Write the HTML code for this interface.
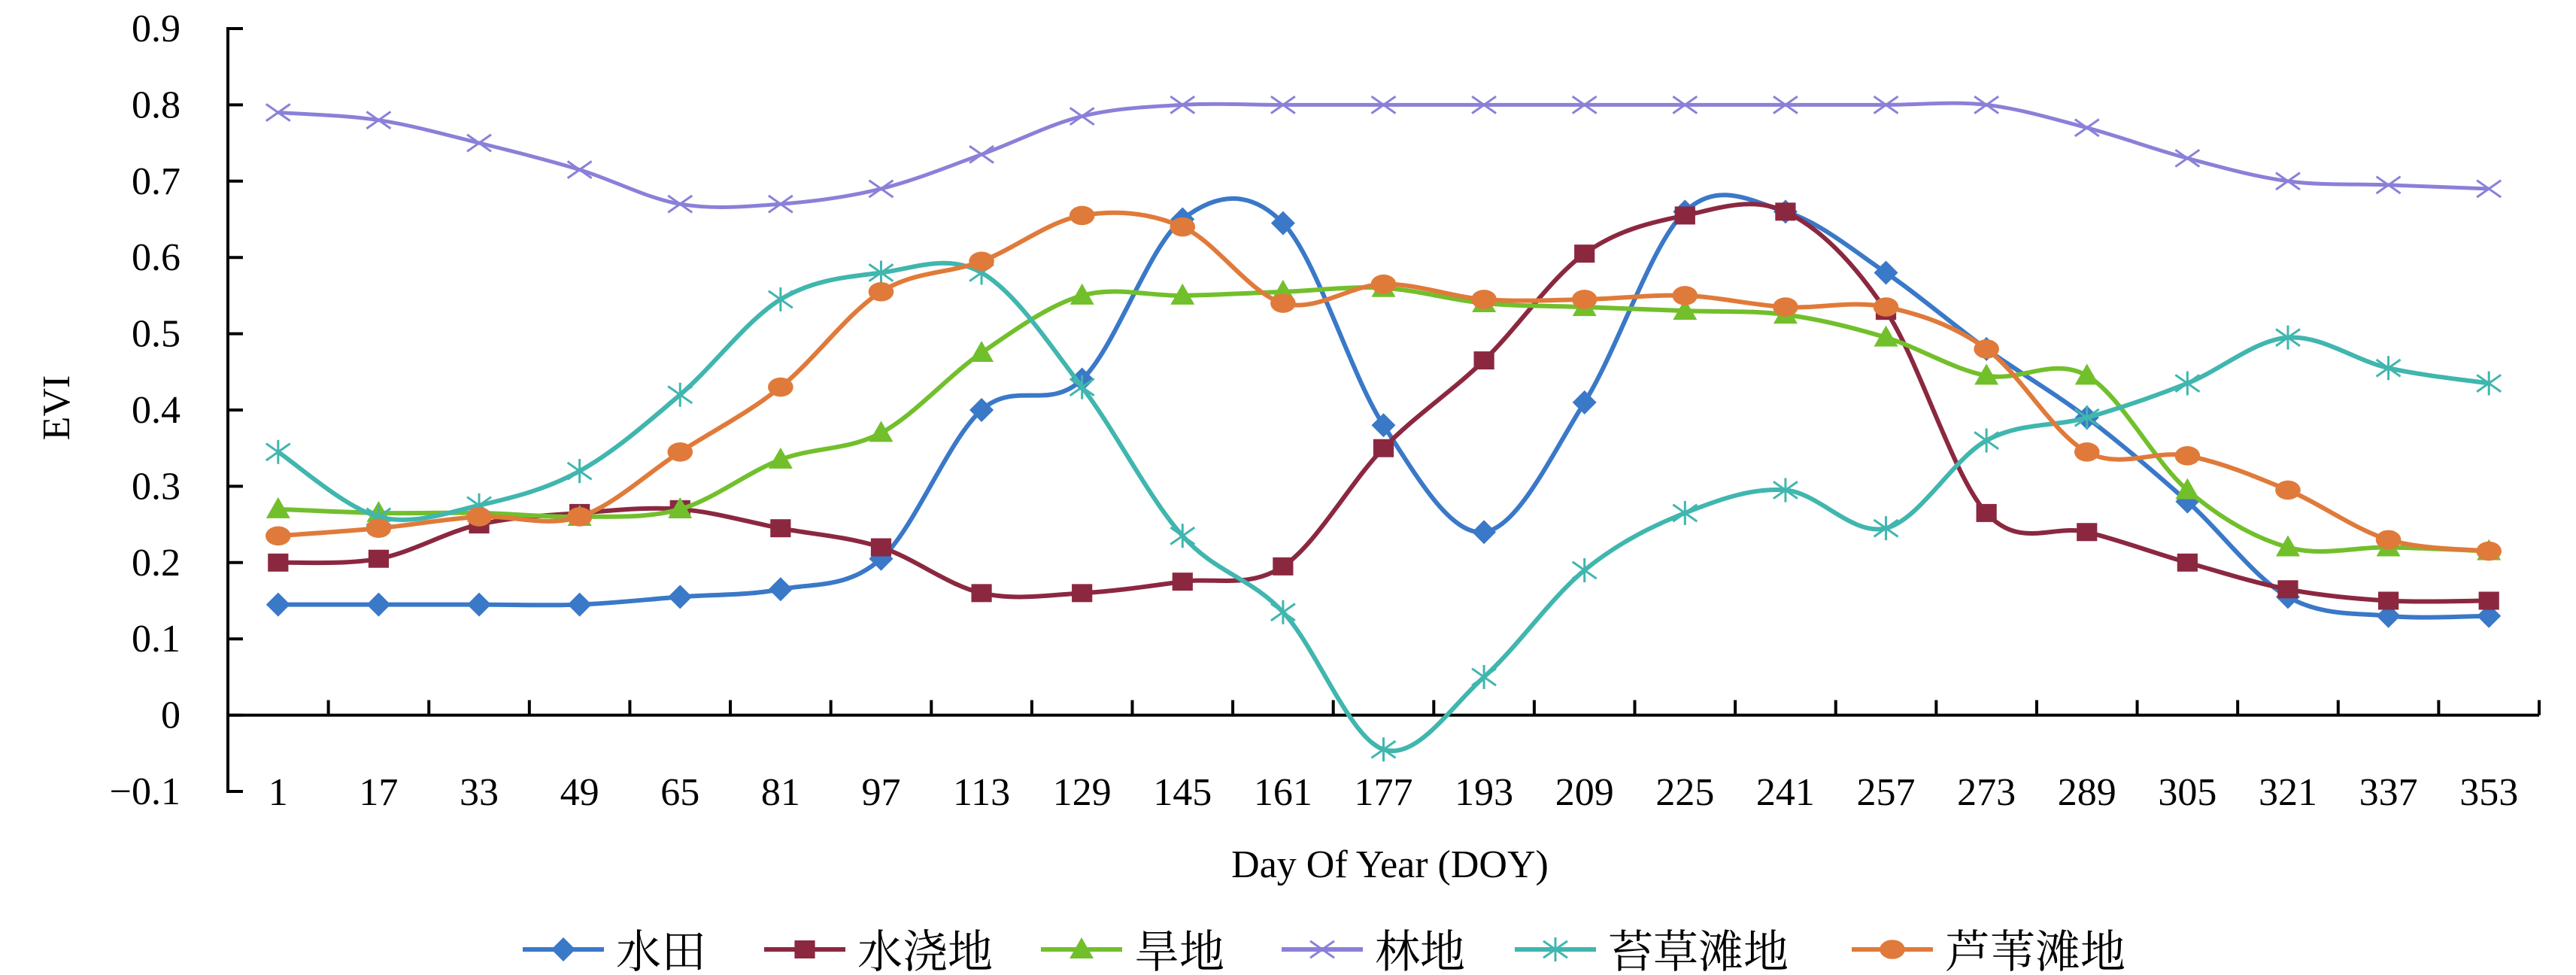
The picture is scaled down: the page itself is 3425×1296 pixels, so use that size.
<!DOCTYPE html>
<html><head><meta charset="utf-8">
<style>
html,body{margin:0;padding:0;background:#fff;}
svg{display:block;}
text{font-family:"Liberation Serif","Noto Serif CJK SC",serif;fill:#000;}
</style></head>
<body>
<svg id="chart" width="3425" height="1296" viewBox="0 0 3425 1296" xmlns="http://www.w3.org/2000/svg">
<g id="axes"></g>
<g id="series"></g>
<g id="legend"></g>
<text x="1848" y="1166" font-size="52" text-anchor="middle">Day Of Year (DOY)</text>
<text x="0" y="0" font-size="52" text-anchor="middle" transform="translate(92,542) rotate(-90)">EVI</text>
</svg>
<script>
const categories=[1,17,33,49,65,81,97,113,129,145,161,177,193,209,225,241,257,273,289,305,321,337,353];
const yTicks=[0.9,0.8,0.7,0.6,0.5,0.4,0.3,0.2,0.1,0,-0.1];
const yTickLabels=["0.9","0.8","0.7","0.6","0.5","0.4","0.3","0.2","0.1","0","\u22120.1"];
const seriesNames=["水田","水浇地","旱地","林地","苔草滩地","芦苇滩地"];
const paddy=[0.145,0.145,0.145,0.145,0.155,0.165,0.205,0.40,0.44,0.65,0.645,0.38,0.24,0.41,0.66,0.66,0.58,0.48,0.39,0.28,0.155,0.13,0.13];
const irrigated=[0.20,0.205,0.25,0.265,0.27,0.245,0.22,0.16,0.16,0.175,0.195,0.35,0.465,0.605,0.655,0.66,0.53,0.265,0.24,0.2,0.165,0.15,0.15];
const dryland=[0.27,0.265,0.265,0.26,0.27,0.335,0.37,0.475,0.55,0.55,0.555,0.56,0.54,0.535,0.53,0.525,0.495,0.445,0.445,0.295,0.22,0.22,0.215];
const forest=[0.79,0.78,0.75,0.715,0.67,0.67,0.69,0.735,0.785,0.80,0.80,0.80,0.80,0.80,0.80,0.80,0.80,0.80,0.77,0.73,0.70,0.695,0.69];
const sedge=[0.345,0.26,0.275,0.32,0.42,0.545,0.58,0.58,0.43,0.235,0.135,-0.045,0.05,0.19,0.265,0.295,0.245,0.36,0.39,0.435,0.495,0.455,0.435];
const reed=[0.235,0.245,0.26,0.26,0.345,0.43,0.555,0.595,0.655,0.64,0.54,0.565,0.545,0.545,0.55,0.535,0.535,0.48,0.345,0.34,0.295,0.23,0.215];

const NS="http://www.w3.org/2000/svg";
const L=303,R=3376,Y09=38,YM01=1052;
const band=(R-L)/categories.length;
function xs(i){return L+band*(i+0.5);}
function ys(v){return YM01-(v+0.1)/1.0*(YM01-Y09);}
function mk(tag,attrs,parent){const e=document.createElementNS(NS,tag);for(const k in attrs)e.setAttribute(k,attrs[k]);parent.appendChild(e);return e;}

const axes=document.getElementById('axes');
let e=mk('line',{x1:L,y1:Y09,x2:L,y2:YM01,stroke:'#000','stroke-width':4},axes);


yTicks.forEach((t,i)=>{
  const y=ys(t);
  const tk=mk('line',{x1:L-2,y1:y,x2:L+20,y2:y,stroke:'#000','stroke-width':4},axes);
  
  
  const tx=mk('text',{x:240,y:y+17,'font-size':52,'text-anchor':'end'},axes);
  tx.textContent=yTickLabels[i];
  
  
});
const y0=ys(0);
e=mk('line',{x1:L,y1:y0,x2:R,y2:y0,stroke:'#000','stroke-width':4},axes);


for(let k=1;k<=categories.length;k++){
  const x=L+band*k;
  const tk=mk('line',{x1:x,y1:y0,x2:x,y2:y0-20,stroke:'#000','stroke-width':4},axes);
  
  
}
categories.forEach((c,i)=>{
  const tx=mk('text',{x:xs(i),y:1070,'font-size':52,'text-anchor':'middle'},axes);
  tx.textContent=c;
  
  
});

const allData=[paddy,irrigated,dryland,forest,sedge,reed];
const colors=['#3a78c8','#8b2840','#72bf2c','#8a80d8','#40b6ae','#e07a3a'];
const markers=['diamond','square','triangle','x','star','circle'];
const keys=['paddy','irrigated','dryland','forest','sedge','reed'];

function smoothPath(pts){
  let d=`M${pts[0][0]},${pts[0][1]}`;
  for(let i=0;i<pts.length-1;i++){
    const p0=pts[Math.max(0,i-1)],p1=pts[i],p2=pts[i+1],p3=pts[Math.min(pts.length-1,i+2)];
    const t=1/6;
    const c1=[p1[0]+(p2[0]-p0[0])*t,p1[1]+(p2[1]-p0[1])*t];
    const c2=[p2[0]-(p3[0]-p1[0])*t,p2[1]-(p3[1]-p1[1])*t];
    d+=` C${c1[0]},${c1[1]} ${c2[0]},${c2[1]} ${p2[0]},${p2[1]}`;
  }
  return d;
}
function drawMarker(type,x,y,col,g,s){
  let m;
  if(type==='diamond') m=mk('polygon',{points:`${x},${y-s} ${x+s},${y} ${x},${y+s} ${x-s},${y}`,fill:col},g);
  else if(type==='square') m=mk('rect',{x:x-s*0.85,y:y-s*0.75,width:s*1.7,height:s*1.5,fill:col},g);
  else if(type==='triangle') m=mk('polygon',{points:`${x},${y-s} ${x+s},${y+s*0.75} ${x-s},${y+s*0.75}`,fill:col},g);
  else if(type==='circle') m=mk('ellipse',{cx:x,cy:y,rx:s*1.05,ry:s*0.8,fill:col},g);
  else if(type==='x'){m=mk('path',{d:`M${x-s},${y-s*0.7}L${x+s},${y+s*0.7}M${x-s},${y+s*0.7}L${x+s},${y-s*0.7}`,stroke:col,'stroke-width':3,fill:'none'},g);}
  else {m=mk('path',{d:`M${x-s},${y-s*0.7}L${x+s},${y+s*0.7}M${x-s},${y+s*0.7}L${x+s},${y-s*0.7}M${x},${y-s}L${x},${y+s}`,stroke:col,'stroke-width':3,fill:'none'},g);}
  return m;
}
const sg=document.getElementById('series');
allData.forEach((arr,si)=>{
  const g=mk('g',{},sg);
  
  
  const pts=arr.map((v,i)=>[xs(i),ys(v)]);
  const p=mk('path',{d:smoothPath(pts),fill:'none',stroke:colors[si],'stroke-width':si===3?5:6},g);
  
  
  pts.forEach(pt=>{
    const m=drawMarker(markers[si],pt[0],pt[1],colors[si],g,16);
    
    
  });
});

const lg=document.getElementById('legend');
const legX=[695,1016,1384,1704,2014,2462];
const LY=1262;
seriesNames.forEach((n,si)=>{
  const g=mk('g',{},lg);
  
  
  const x=legX[si];
  mk('line',{x1:x,y1:LY,x2:x+108,y2:LY,stroke:colors[si],'stroke-width':6},g);
  drawMarker(markers[si],x+54,LY,colors[si],g,16);
  const t=mk('text',{x:x+124,y:LY+24,'font-size':60},g);
  t.textContent=n;
  
  
});
</script>
</body></html>
